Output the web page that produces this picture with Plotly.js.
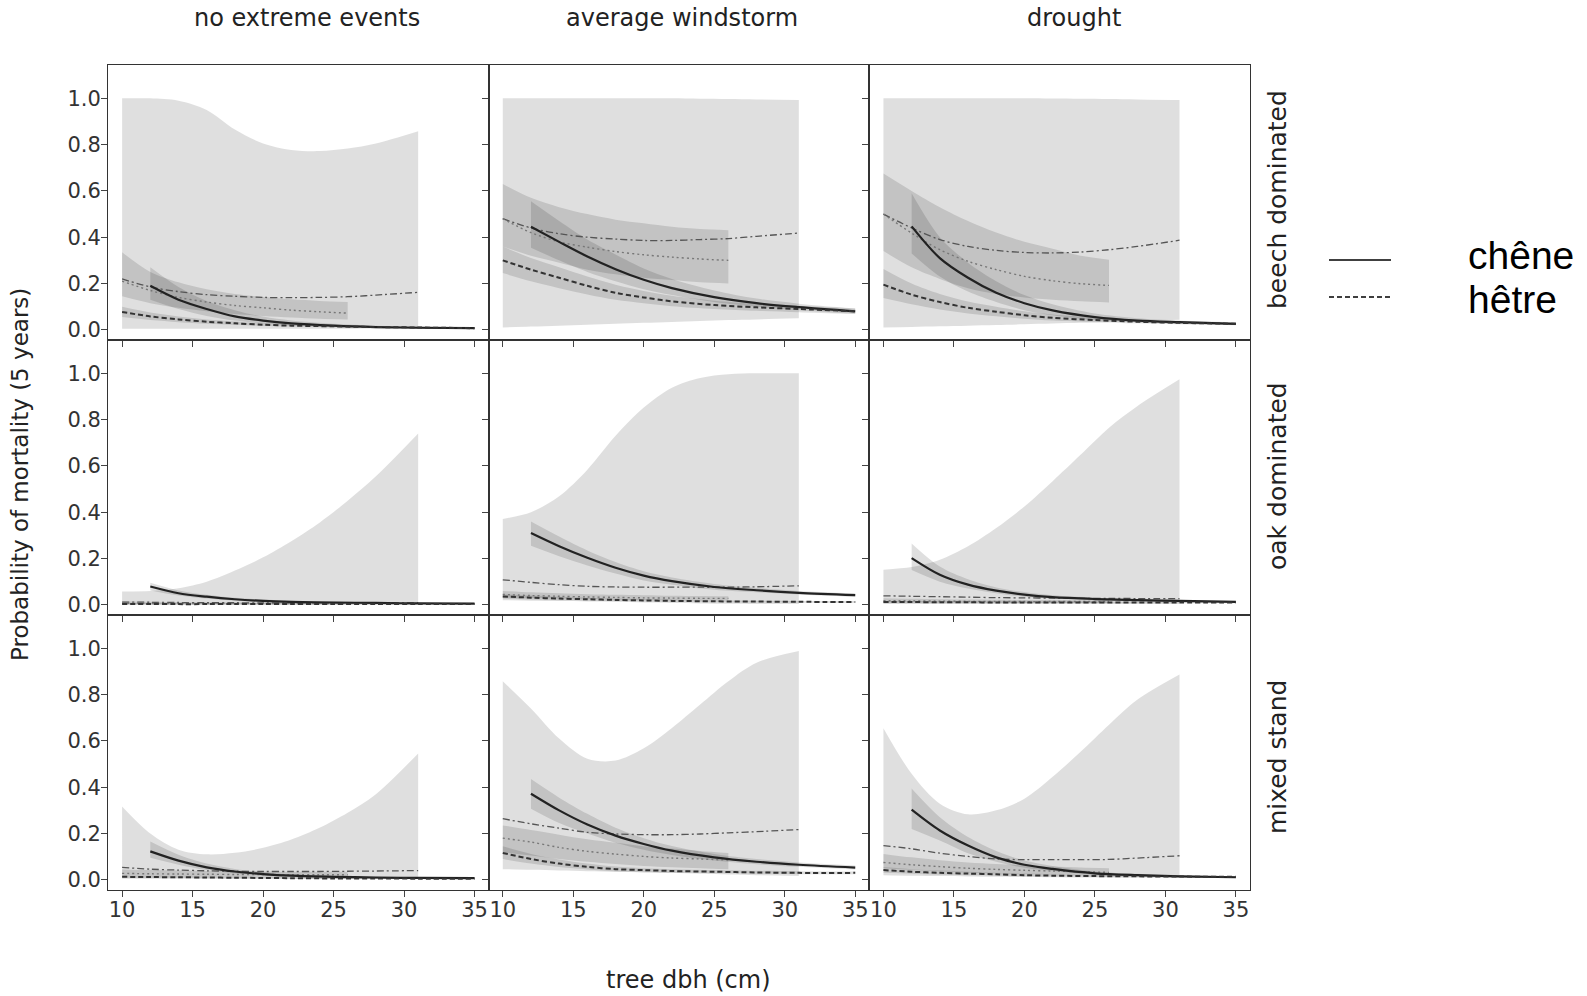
<!DOCTYPE html>
<html>
<head>
<meta charset="utf-8">
<script src="https://cdn.plot.ly/plotly-3.0.1.min.js"></script>
<style>html,body{margin:0;padding:0;background:#fff;}#chart{width:1587px;height:996px;}</style>
</head>
<body>
<div id="chart"></div>
<script>
// ---------- DATA ----------
const colTitles = ["no extreme events", "average windstorm", "drought"];
const rowTitles = ["beech dominated", "oak dominated", "mixed stand"];
const xTickVals = [10, 15, 20, 25, 30, 35];
const yTickVals = [0, 0.2, 0.4, 0.6, 0.8, 1.0];
const yTickText = ["0.0", "0.2", "0.4", "0.6", "0.8", "1.0"];
const legendNames = ["chêne", "hêtre"];

// x grids of each curve (tree dbh, cm)
const xDashDot = [10, 12, 14, 16, 18, 20, 22, 24, 26, 28, 31];
const xDotted  = [10, 12, 14, 16, 18, 20, 22, 24, 26];
const xChene   = [12, 14, 16, 18, 20, 22, 25, 28, 31, 35];
const xHetre   = [10, 12, 14, 16, 18, 20, 22, 25, 28, 31, 35];

// panel order: beech(none, wind, drought), oak(none, wind, drought), mixed(none, wind, drought)
const dashdotMean = [
  [0.22,0.185,0.165,0.152,0.145,0.14,0.139,0.14,0.143,0.15,0.162],
  [0.48,0.44,0.415,0.40,0.392,0.386,0.386,0.39,0.394,0.404,0.418],
  [0.50,0.44,0.39,0.36,0.343,0.334,0.332,0.336,0.346,0.36,0.387],
  [0.012,0.011,0.01,0.009,0.009,0.008,0.008,0.008,0.008,0.008,0.008],
  [0.108,0.097,0.087,0.08,0.077,0.076,0.076,0.076,0.076,0.078,0.082],
  [0.039,0.037,0.035,0.033,0.031,0.03,0.029,0.028,0.028,0.027,0.027],
  [0.054,0.046,0.042,0.039,0.037,0.036,0.036,0.036,0.037,0.038,0.04],
  [0.264,0.242,0.223,0.205,0.198,0.195,0.195,0.198,0.203,0.208,0.217],
  [0.148,0.134,0.115,0.101,0.09,0.087,0.087,0.087,0.088,0.094,0.104]
];
const dashdotLo = [
  [0.005,0.005,0.005,0.005,0.005,0.005,0.005,0.005,0.005,0.006,0.006],
  [0.01,0.014,0.018,0.022,0.026,0.03,0.034,0.038,0.042,0.045,0.05],
  [0.01,0.012,0.015,0.018,0.021,0.024,0.027,0.03,0.034,0.037,0.043],
  [0,0,0,0,0,0,0,0,0,0,0],
  [0.02,0.018,0.016,0.014,0.012,0.01,0.008,0.006,0.005,0.004,0.003],
  [0.003,0.003,0.003,0.003,0.003,0.003,0.003,0.003,0.003,0.003,0.003],
  [0.005,0.005,0.005,0.005,0.005,0.005,0.005,0.005,0.005,0.005,0.005],
  [0.046,0.043,0.04,0.037,0.034,0.032,0.029,0.026,0.023,0.02,0.017],
  [0.02,0.018,0.016,0.014,0.013,0.012,0.011,0.01,0.01,0.01,0.01]
];
const dashdotHi = [
  [1.0,1.0,0.99,0.95,0.865,0.805,0.777,0.772,0.783,0.805,0.858],
  [1.0,1.0,1.0,1.0,1.0,1.0,1.0,0.998,0.997,0.995,0.993],
  [1.0,1.0,1.0,1.0,1.0,1.0,0.999,0.998,0.997,0.995,0.993],
  [0.058,0.06,0.072,0.1,0.148,0.205,0.275,0.355,0.45,0.555,0.74],
  [0.371,0.40,0.469,0.584,0.73,0.852,0.938,0.98,0.996,1.0,1.0],
  [0.152,0.163,0.195,0.253,0.332,0.425,0.534,0.649,0.765,0.858,0.974],
  [0.317,0.2,0.13,0.11,0.117,0.138,0.174,0.225,0.29,0.37,0.546],
  [0.858,0.74,0.61,0.523,0.515,0.568,0.656,0.757,0.858,0.938,0.988],
  [0.655,0.458,0.329,0.283,0.3,0.35,0.445,0.554,0.67,0.778,0.887]
];

const dottedMean = [
  [0.21,0.17,0.14,0.12,0.105,0.095,0.085,0.078,0.072],
  [0.48,0.42,0.38,0.357,0.338,0.324,0.314,0.306,0.30],
  [0.50,0.418,0.346,0.296,0.26,0.231,0.212,0.199,0.192],
  [0.007,0.006,0.006,0.005,0.005,0.005,0.005,0.005,0.005],
  [0.045,0.04,0.037,0.034,0.032,0.03,0.029,0.028,0.028],
  [0.018,0.017,0.016,0.015,0.015,0.014,0.014,0.014,0.014],
  [0.028,0.026,0.025,0.024,0.023,0.023,0.022,0.022,0.022],
  [0.18,0.163,0.14,0.123,0.111,0.101,0.094,0.09,0.085],
  [0.075,0.065,0.057,0.05,0.045,0.041,0.038,0.035,0.032]
];
const dottedLo = [
  [0.145,0.115,0.095,0.08,0.068,0.06,0.053,0.048,0.045],
  [0.36,0.32,0.29,0.26,0.24,0.225,0.215,0.205,0.20],
  [0.34,0.27,0.22,0.18,0.155,0.14,0.13,0.123,0.118],
  [0.002,0.002,0.002,0.002,0.002,0.002,0.002,0.002,0.002],
  [0.032,0.029,0.027,0.025,0.023,0.022,0.021,0.02,0.02],
  [0.01,0.01,0.009,0.009,0.009,0.008,0.008,0.008,0.008],
  [0.016,0.015,0.014,0.014,0.013,0.013,0.013,0.012,0.012],
  [0.12,0.105,0.09,0.078,0.068,0.06,0.054,0.05,0.046],
  [0.05,0.043,0.037,0.032,0.028,0.025,0.023,0.021,0.02]
];
const dottedHi = [
  [0.335,0.25,0.205,0.175,0.155,0.142,0.132,0.125,0.12],
  [0.63,0.57,0.53,0.50,0.476,0.46,0.445,0.435,0.43],
  [0.675,0.6,0.53,0.47,0.42,0.38,0.35,0.32,0.303],
  [0.015,0.013,0.012,0.011,0.011,0.01,0.01,0.01,0.01],
  [0.06,0.054,0.05,0.046,0.043,0.041,0.039,0.038,0.037],
  [0.028,0.026,0.024,0.023,0.022,0.021,0.021,0.02,0.02],
  [0.045,0.042,0.04,0.038,0.037,0.036,0.035,0.035,0.035],
  [0.235,0.215,0.195,0.175,0.16,0.145,0.135,0.125,0.116],
  [0.112,0.097,0.085,0.075,0.068,0.062,0.057,0.053,0.05]
];

const cheneMean = [
  [0.19,0.13,0.09,0.058,0.04,0.028,0.018,0.012,0.009,0.007],
  [0.445,0.38,0.317,0.262,0.216,0.18,0.141,0.115,0.098,0.08],
  [0.447,0.31,0.225,0.16,0.115,0.084,0.055,0.04,0.033,0.026],
  [0.079,0.05,0.035,0.024,0.017,0.013,0.01,0.008,0.006,0.005],
  [0.31,0.253,0.203,0.16,0.126,0.102,0.077,0.063,0.052,0.042],
  [0.202,0.13,0.087,0.061,0.044,0.033,0.025,0.02,0.017,0.013],
  [0.123,0.083,0.054,0.036,0.025,0.018,0.013,0.01,0.008,0.007],
  [0.372,0.3,0.239,0.191,0.155,0.126,0.097,0.078,0.065,0.053],
  [0.303,0.213,0.148,0.097,0.065,0.047,0.028,0.02,0.015,0.011]
];
const cheneLo = [
  [0.13,0.09,0.06,0.04,0.028,0.019,0.012,0.008,0.005,0.004],
  [0.355,0.30,0.25,0.21,0.175,0.15,0.12,0.10,0.085,0.07],
  [0.33,0.23,0.165,0.12,0.085,0.063,0.042,0.032,0.026,0.02],
  [0.062,0.04,0.027,0.018,0.012,0.009,0.007,0.005,0.004,0.003],
  [0.255,0.21,0.17,0.135,0.105,0.087,0.065,0.054,0.045,0.035],
  [0.15,0.1,0.07,0.05,0.035,0.027,0.02,0.016,0.013,0.01],
  [0.095,0.065,0.042,0.028,0.019,0.014,0.01,0.007,0.005,0.004],
  [0.307,0.245,0.2,0.16,0.13,0.107,0.083,0.067,0.056,0.045],
  [0.22,0.17,0.115,0.078,0.052,0.038,0.022,0.015,0.011,0.008]
];
const cheneHi = [
  [0.27,0.185,0.125,0.085,0.057,0.04,0.026,0.018,0.014,0.011],
  [0.555,0.47,0.39,0.325,0.265,0.22,0.17,0.135,0.113,0.092],
  [0.59,0.40,0.29,0.21,0.15,0.11,0.07,0.05,0.04,0.032],
  [0.095,0.062,0.043,0.03,0.023,0.018,0.014,0.011,0.009,0.008],
  [0.36,0.295,0.235,0.185,0.145,0.118,0.09,0.073,0.06,0.05],
  [0.265,0.165,0.11,0.075,0.055,0.041,0.031,0.025,0.021,0.017],
  [0.165,0.108,0.07,0.047,0.033,0.024,0.017,0.013,0.011,0.01],
  [0.435,0.355,0.285,0.225,0.18,0.146,0.112,0.09,0.075,0.062],
  [0.394,0.27,0.185,0.125,0.083,0.06,0.036,0.026,0.02,0.015]
];

const hetreMean = [
  [0.077,0.058,0.045,0.035,0.028,0.022,0.018,0.015,0.012,0.01,0.007],
  [0.30,0.26,0.225,0.19,0.16,0.14,0.123,0.107,0.097,0.09,0.08],
  [0.195,0.152,0.12,0.095,0.078,0.063,0.052,0.042,0.035,0.03,0.026],
  [0.004,0.004,0.003,0.003,0.003,0.003,0.003,0.003,0.003,0.003,0.003],
  [0.036,0.031,0.027,0.024,0.021,0.019,0.017,0.015,0.014,0.013,0.012],
  [0.012,0.012,0.011,0.011,0.01,0.01,0.01,0.01,0.01,0.01,0.01],
  [0.013,0.012,0.011,0.01,0.009,0.008,0.007,0.006,0.006,0.005,0.005],
  [0.116,0.09,0.07,0.056,0.046,0.042,0.038,0.035,0.032,0.03,0.03],
  [0.042,0.035,0.03,0.027,0.024,0.02,0.018,0.016,0.015,0.014,0.013]
];
const hetreLo = [
  [0.055,0.042,0.033,0.026,0.021,0.017,0.014,0.011,0.009,0.007,0.005],
  [0.245,0.21,0.18,0.153,0.13,0.115,0.102,0.09,0.082,0.076,0.068],
  [0.137,0.11,0.088,0.071,0.059,0.048,0.04,0.033,0.028,0.024,0.021],
  [0.001,0.001,0.001,0.001,0.001,0.001,0.001,0.001,0.001,0.001,0.001],
  [0.027,0.023,0.02,0.018,0.016,0.014,0.013,0.011,0.01,0.009,0.008],
  [0.007,0.007,0.007,0.007,0.007,0.007,0.007,0.007,0.007,0.007,0.007],
  [0.009,0.008,0.008,0.007,0.006,0.006,0.005,0.004,0.004,0.003,0.003],
  [0.09,0.07,0.055,0.045,0.037,0.033,0.03,0.028,0.026,0.024,0.024],
  [0.03,0.026,0.022,0.02,0.018,0.015,0.014,0.012,0.011,0.01,0.01]
];
const hetreHi = [
  [0.1,0.075,0.058,0.045,0.036,0.029,0.024,0.019,0.016,0.013,0.01],
  [0.36,0.31,0.27,0.23,0.195,0.168,0.147,0.126,0.113,0.104,0.092],
  [0.263,0.2,0.155,0.122,0.1,0.08,0.066,0.053,0.044,0.037,0.031],
  [0.007,0.007,0.006,0.006,0.006,0.006,0.006,0.006,0.006,0.006,0.006],
  [0.046,0.04,0.035,0.031,0.027,0.025,0.022,0.02,0.018,0.017,0.016],
  [0.016,0.016,0.015,0.015,0.014,0.014,0.014,0.014,0.014,0.014,0.014],
  [0.017,0.016,0.015,0.014,0.013,0.012,0.011,0.009,0.009,0.008,0.008],
  [0.145,0.112,0.088,0.07,0.057,0.05,0.046,0.042,0.039,0.037,0.036],
  [0.055,0.046,0.04,0.035,0.031,0.027,0.024,0.021,0.019,0.018,0.017]
];

// ---------- BUILD ----------
const W = 1587, H = 996;
const M = {l: 108, r: 337, t: 65, b: 106};
const PW = W - M.l - M.r, PH = H - M.t - M.b;
const px = v => (v - M.l) / PW;           // pixel x -> paper
const py = v => (H - M.b - v) / PH;       // pixel y -> paper

const bandFill = 'rgba(0,0,0,0.125)';
const traces = [];
const series = [
  {x: xDashDot, m: dashdotMean, lo: dashdotLo, hi: dashdotHi, line: {color: '#555', width: 1.3, dash: '7px,3px,2px,3px'}},
  {x: xDotted,  m: dottedMean,  lo: dottedLo,  hi: dottedHi,  line: {color: '#777', width: 1.4, dash: '2px,3px'}},
  {x: xChene,   m: cheneMean,   lo: cheneLo,   hi: cheneHi,   line: {color: '#222', width: 2.2}},
  {x: xHetre,   m: hetreMean,   lo: hetreLo,   hi: hetreHi,   line: {color: '#333', width: 2, dash: '5px,3px'}}
];

for (let p = 0; p < 9; p++) {
  const k = p === 0 ? '' : String(p + 1);
  const xa = 'x' + k, ya = 'y' + k;
  series.forEach(s => {
    traces.push({x: s.x, y: s.lo[p], xaxis: xa, yaxis: ya, type: 'scatter', mode: 'lines',
      line: {width: 0, shape: 'spline', smoothing: 0.9}, hoverinfo: 'skip', showlegend: false});
    traces.push({x: s.x, y: s.hi[p], xaxis: xa, yaxis: ya, type: 'scatter', mode: 'lines',
      line: {width: 0, shape: 'spline', smoothing: 0.9}, fill: 'tonexty', fillcolor: bandFill,
      hoverinfo: 'skip', showlegend: false});
  });
  series.forEach(s => {
    traces.push({x: s.x, y: s.m[p], xaxis: xa, yaxis: ya, type: 'scatter', mode: 'lines',
      line: Object.assign({shape: 'spline', smoothing: 0.9}, s.line), showlegend: false});
  });
}

const tickFont = {family: 'DejaVu Sans', size: 21, color: '#333'};
const layout = {
  width: W, height: H, margin: M, showlegend: false,
  paper_bgcolor: '#fff', plot_bgcolor: '#fff',
  font: {family: 'DejaVu Sans', color: '#222'},
  annotations: [], shapes: []
};
for (let p = 0; p < 9; p++) {
  const r = Math.floor(p / 3), c = p % 3;
  const k = p === 0 ? '' : String(p + 1);
  layout['xaxis' + k] = {
    domain: [c / 3, (c + 1) / 3], anchor: 'y' + k, range: [9, 36],
    tickvals: xTickVals, ticks: 'outside', ticklen: 6, tickcolor: '#444', tickwidth: 1,
    showticklabels: r === 2, tickfont: tickFont, ticklabelstandoff: -5,
    showline: true, mirror: true, linecolor: '#333', linewidth: 1,
    zeroline: false, showgrid: false, fixedrange: true
  };
  layout['yaxis' + k] = {
    domain: [(2 - r) / 3, (3 - r) / 3], anchor: 'x' + k, range: [-0.044, 1.144],
    tickvals: yTickVals, ticktext: yTickText, ticks: 'outside', ticklen: 6, tickcolor: '#444', tickwidth: 1,
    showticklabels: c === 0, tickfont: tickFont, ticklabelstandoff: -4,
    showline: true, mirror: true, linecolor: '#333', linewidth: 1,
    zeroline: false, showgrid: false, fixedrange: true
  };
}

// column titles
const colX = [307, 682, 1074];
colTitles.forEach((t, i) => layout.annotations.push({
  text: t, xref: 'paper', yref: 'paper', x: px(colX[i]), y: py(18), xanchor: 'center', yanchor: 'middle',
  showarrow: false, font: {size: 24, color: '#222'}
}));
// row strip titles
const rowY = [200, 476, 757];
rowTitles.forEach((t, i) => layout.annotations.push({
  text: t, xref: 'paper', yref: 'paper', x: px(1277), y: py(rowY[i]), xanchor: 'center', yanchor: 'middle',
  textangle: -90, showarrow: false, font: {size: 25, color: '#222'}
}));
// axis titles
layout.annotations.push({
  text: 'Probability of mortality (5 years)', xref: 'paper', yref: 'paper', x: px(20), y: py(475),
  xanchor: 'center', yanchor: 'middle', textangle: -90, showarrow: false, font: {size: 23, color: '#222'}
});
layout.annotations.push({
  text: 'tree dbh (cm)', xref: 'paper', yref: 'paper', x: px(688), y: py(980),
  xanchor: 'center', yanchor: 'middle', showarrow: false, font: {size: 24, color: '#222'}
});
// legend (drawn by hand): sample lines and labels
const legY = [260, 297];
const legTextY = [255, 299];
const legDash = ['solid', '5px,3px'];
legendNames.forEach((n, i) => {
  layout.shapes.push({type: 'line', xref: 'paper', yref: 'paper', x0: px(1329), x1: px(1391),
    y0: py(legY[i]), y1: py(legY[i]), line: {color: '#000', width: 1.6, dash: legDash[i]}});
  layout.annotations.push({text: n, xref: 'paper', yref: 'paper', x: px(1466), y: py(legTextY[i]),
    xanchor: 'left', yanchor: 'middle', showarrow: false,
    font: {family: 'Liberation Sans', size: 39, color: '#000'}});
});

Plotly.newPlot('chart', traces, layout, {staticPlot: true, displayModeBar: false});
</script>
</body>
</html>
